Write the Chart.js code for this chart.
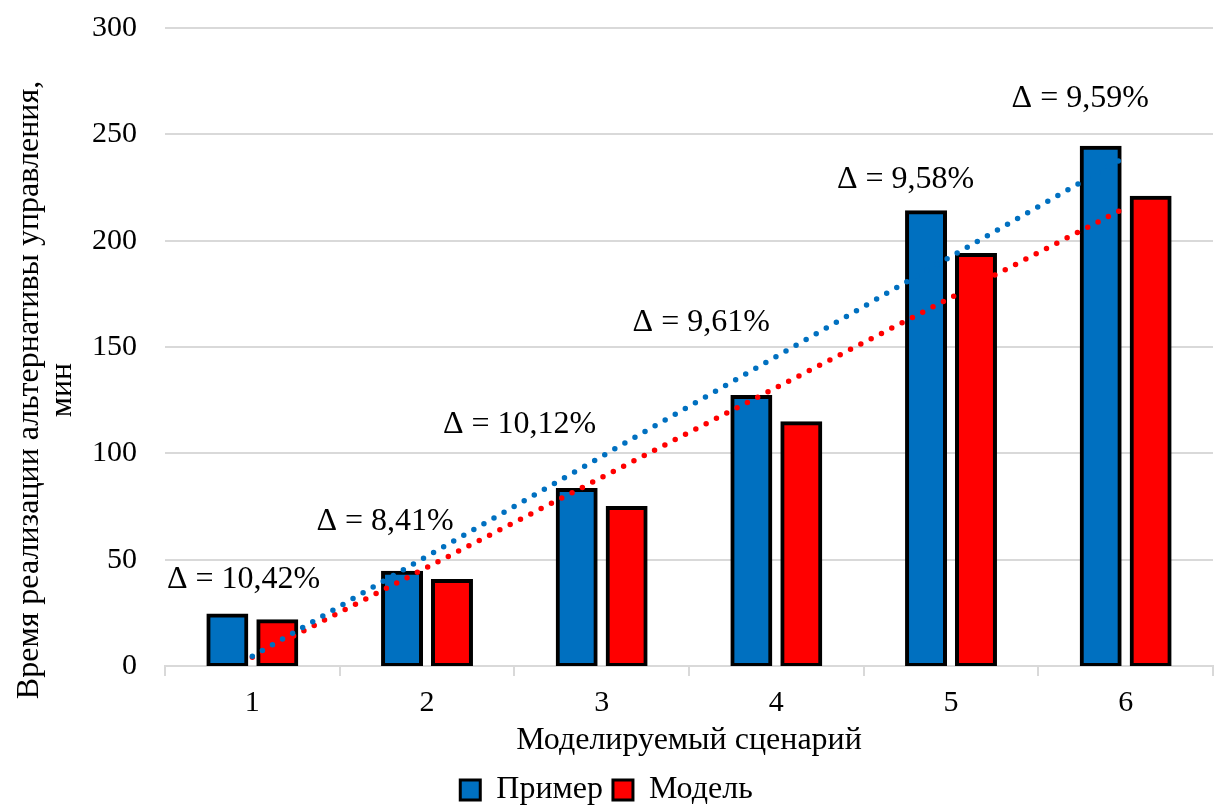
<!DOCTYPE html>
<html>
<head>
<meta charset="utf-8">
<script src="https://cdn.jsdelivr.net/npm/chart.js@4/dist/chart.umd.min.js"></script>
<style>
  html, body { margin: 0; padding: 0; background: #fff; }
  #wrap { width: 1219px; height: 806px; }
</style>
</head>
<body>
<div id="wrap"><canvas id="c" width="1219" height="806"></canvas></div>
<script>
// ---- data ----
const categories = ['1', '2', '3', '4', '5', '6'];
const seriesNames = ['Пример', 'Модель'];
const primerValues = [23.8, 43.9, 82.7, 126.5, 213.4, 243.7];
const modelValues  = [21.0, 40.0, 74.3, 114.2, 193.3, 220.2];
// linear trendlines: value at scenario 1 and scenario 6
const primerTrend = [4.6, null, null, null, null, 239.5];
const modelTrend  = [4.1, null, null, null, null, 215.5];
const yTicks = [0, 50, 100, 150, 200, 250, 300];
const yTitle = ['Время реализации альтернативы управления,', 'мин'];
const xTitle = 'Моделируемый сценарий';
// delta annotations: text, anchor in category units (0 = scenario 1), anchor value
const deltaText = ['Δ = 10,42%', 'Δ = 8,41%', 'Δ = 10,12%', 'Δ = 9,61%', 'Δ = 9,58%', 'Δ = 9,59%'];
const deltaCat  = [-0.05, 0.76, 1.53, 2.57, 3.74, 4.74];
const deltaVal  = [40.4, 67.7, 113.3, 161.7, 228.5, 266.6];

// ---- styles ----
const FONT = '"Liberation Serif", "Times New Roman", serif';
const BLUE = '#0070C0';
const RED = '#FF0000';
const GRID = '#d9d9d9';
const FS_TICK = 30;
const FS = 32;
const PAD_BOTTOM = -10;

const deltaPlugin = {
  id: 'deltaLabels',
  afterDatasetsDraw(chart) {
    const ctx = chart.ctx;
    const xs = chart.scales.x, ys = chart.scales.y;
    ctx.save();
    ctx.font = FS + 'px ' + FONT;
    ctx.fillStyle = '#000';
    ctx.textAlign = 'center';
    ctx.textBaseline = 'middle';
    deltaText.forEach((t, i) => {
      ctx.fillText(t, xs.getPixelForValue(deltaCat[i]), ys.getPixelForValue(deltaVal[i]));
    });
    ctx.restore();
  }
};

// rotated y-axis title (Excel places it a little below the plot's middle)
const yTitlePlugin = {
  id: 'yTitle',
  afterDraw(chart) {
    const ctx = chart.ctx;
    const ca = chart.chartArea;
    const lh = FS * 1.04;
    const cy = (ca.top + ca.bottom) / 2 + 43;
    ctx.save();
    ctx.font = FS + 'px ' + FONT;
    ctx.fillStyle = '#000';
    ctx.textAlign = 'center';
    ctx.textBaseline = 'middle';
    yTitle.forEach((line, i) => {
      ctx.save();
      ctx.translate(13 + lh / 2 + i * lh, cy);
      ctx.rotate(-Math.PI / 2);
      ctx.fillText(line, 0, 0);
      ctx.restore();
    });
    ctx.restore();
  }
};

const trendStyle = (color) => ({
  type: 'line',
  borderColor: color,
  backgroundColor: color,
  borderWidth: 5.5,
  borderDash: [0, 11.6],
  borderCapStyle: 'round',
  pointRadius: 0,
  spanGaps: true,
  fill: false,
  order: 0
});

const barStyle = (color) => ({
  type: 'bar',
  backgroundColor: color,
  borderColor: '#000',
  borderWidth: 4,
  borderSkipped: false,
  inflateAmount: 2,
  barPercentage: 0.76,
  categoryPercentage: 0.572,
  order: 1
});

new Chart(document.getElementById('c'), {
  data: {
    labels: categories,
    datasets: [
      Object.assign({ label: 'trend ' + seriesNames[0], data: primerTrend }, trendStyle(BLUE)),
      Object.assign({ label: 'trend ' + seriesNames[1], data: modelTrend }, trendStyle(RED)),
      Object.assign({ label: seriesNames[0], data: primerValues }, barStyle(BLUE)),
      Object.assign({ label: seriesNames[1], data: modelValues }, barStyle(RED))
    ]
  },
  options: {
    responsive: false,
    animation: false,
    devicePixelRatio: 1,
    layout: { padding: { top: 28, right: 6, left: 0, bottom: PAD_BOTTOM } },
    plugins: {
      legend: {
        position: 'bottom',
        labels: {
          filter: (item) => !item.text.startsWith('trend'),
          font: { family: FONT, size: FS },
          color: '#000',
          boxWidth: 20,
          boxHeight: 20,
          padding: 10,
          generateLabels: (chart) => {
            const items = Chart.defaults.plugins.legend.labels.generateLabels(chart);
            items.forEach(it => { it.lineWidth = 3; it.strokeStyle = '#000'; });
            return items;
          }
        }
      },
      tooltip: { enabled: false }
    },
    scales: {
      x: {
        type: 'category',
        offset: true,
        grid: {
          display: true,
          drawOnChartArea: false,
          drawTicks: true,
          tickLength: 10,
          color: GRID,
          lineWidth: 2,
          offset: true
        },
        border: { display: true, color: GRID, width: 2 },
        ticks: { font: { family: FONT, size: FS_TICK }, color: '#000', padding: 9, maxRotation: 0 },
        title: {
          display: true,
          text: xTitle,
          font: { family: FONT, size: FS },
          color: '#000',
          padding: { top: 0, bottom: 4 }
        },
        afterFit: (scale) => {
          const legendH = scale.chart.legend && scale.chart.legend.height ? scale.chart.legend.height : 50;
          scale.height = scale.chart.height - 666 - legendH - PAD_BOTTOM;
        }
      },
      y: {
        min: 0,
        max: 300,
        afterBuildTicks: (scale) => { scale.ticks = yTicks.map(v => ({ value: v })); },
        grid: { color: GRID, lineWidth: 2, drawTicks: false },
        border: { display: false },
        ticks: { font: { family: FONT, size: FS_TICK }, color: '#000', padding: 28 },
        title: { display: false },
        afterFit: (scale) => {
          scale.width = 165;
          scale.paddingTop = 16;
          scale.paddingBottom = 16;
        }
      }
    }
  },
  plugins: [deltaPlugin, yTitlePlugin]
});
</script>
</body>
</html>
